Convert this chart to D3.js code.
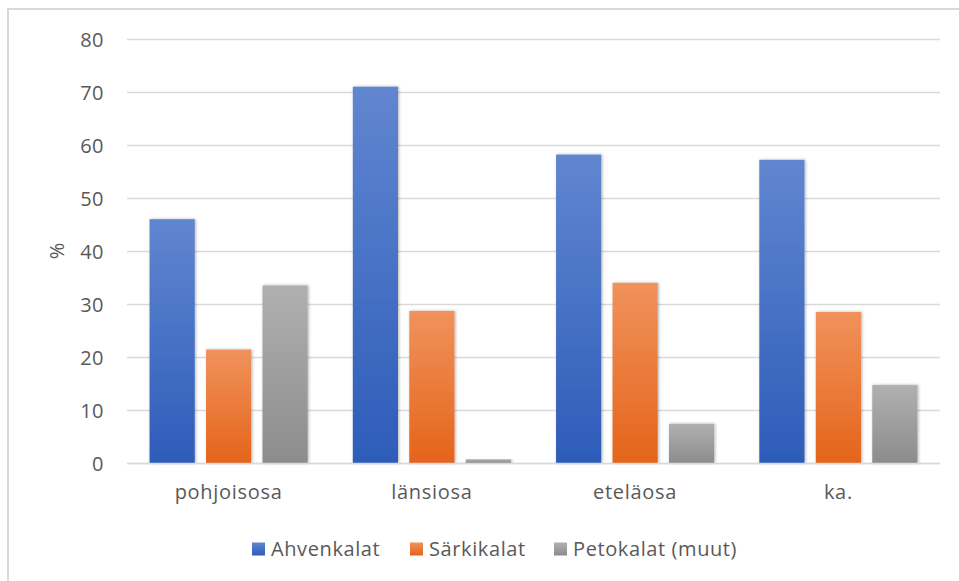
<!DOCTYPE html>
<html><head><meta charset="utf-8">
<script src="https://cdn.jsdelivr.net/npm/d3@7"></script>
<style>body{margin:0;background:#fff}svg{display:block}</style>
</head><body>
<svg id="chart" width="959" height="581"></svg>
<script>
const categories = ["pohjoisosa", "länsiosa", "eteläosa", "ka."];
const seriesNames = ["Ahvenkalat", "Särkikalat", "Petokalat (muut)"];
const ahvenkalat = [46.0, 71.0, 58.2, 57.2];
const sarkikalat = [21.4, 28.7, 34.0, 28.5];
const petokalat = [33.5, 0.7, 7.4, 14.7];
const yTicks = [0, 10, 20, 30, 40, 50, 60, 70, 80];
const yLabel = "%";

(function () {
const seriesValues = [ahvenkalat, sarkikalat, petokalat];
const colorsTop = ["#6186d0", "#f0925c", "#b0b0b0"];
const colorsBot = ["#2d5cb9", "#e5641a", "#8c8c8c"];

const svg = d3.select("#chart");
const font = "'Open Sans', 'Segoe UI', sans-serif";
const textColor = "#595959";
const gridColor = "#d9d9d9";

// outer frame (cropped)
svg.append("rect").attr("x", 8).attr("y", 9).attr("width", 1200).attr("height", 1200)
  .attr("fill", "none").attr("stroke", "#d9d9d9").attr("stroke-width", 2);

const defs = svg.append("defs");
seriesNames.forEach((s, i) => {
  const g = defs.append("linearGradient").attr("id", "g" + i)
    .attr("x1", 0).attr("y1", 0).attr("x2", 0).attr("y2", 1);
  g.append("stop").attr("offset", "0%").attr("stop-color", colorsTop[i]);
  g.append("stop").attr("offset", "100%").attr("stop-color", colorsBot[i]);
});
const f = defs.append("filter").attr("id", "shadow").attr("x", "-20%").attr("y", "-5%").attr("width", "140%").attr("height", "110%");
f.append("feDropShadow").attr("dx", 1).attr("dy", 0).attr("stdDeviation", 1.6)
  .attr("flood-color", "#000").attr("flood-opacity", 0.3);

const mLeft = 127, mRight = 940, mTop = 39, mBottom = 463;
const x = d3.scaleBand().domain(categories).range([mLeft, mRight]).paddingInner(0.222).paddingOuter(0.111);
const xs = d3.scaleBand().domain(d3.range(seriesNames.length)).range([0, x.bandwidth()]).paddingInner(0.2);
const y = d3.scaleLinear().domain([0, 80]).range([mBottom, mTop]);

// gridlines
const yAxis = d3.axisLeft(y).tickValues(yTicks).tickSize(-(mRight - mLeft)).tickPadding(23).tickFormat(d3.format("d"));
const ga = svg.append("g").attr("transform", `translate(${mLeft},0)`).call(yAxis);
ga.select(".domain").remove();
ga.selectAll(".tick line").attr("stroke", gridColor).attr("stroke-width", 1.5);
ga.selectAll(".tick text").attr("fill", textColor).attr("font-family", font).attr("font-size", 20)
  .attr("letter-spacing", 0.5).attr("dy", "0.35em");

// bars
categories.forEach((c, ci) => {
  seriesValues.forEach((vals, si) => {
    const v = vals[ci];
    svg.append("rect")
      .attr("x", x(c) + xs(si))
      .attr("y", y(v))
      .attr("width", xs.bandwidth())
      .attr("height", y(0) - y(v))
      .attr("fill", `url(#g${si})`)
      .attr("filter", "url(#shadow)");
  });
});

// x axis
const xAxis = d3.axisBottom(x).tickSize(0).tickPadding(22);
const gx = svg.append("g").attr("transform", `translate(0,${mBottom})`).call(xAxis);
gx.select(".domain").attr("stroke", gridColor).attr("stroke-width", 1.5);
gx.selectAll(".tick text").attr("fill", textColor).attr("font-family", font).attr("font-size", 20)
  .attr("letter-spacing", 0.7);

// y label
svg.append("text").attr("transform", "translate(64,251) rotate(-90)")
  .attr("text-anchor", "middle").attr("fill", textColor).attr("font-family", font).attr("font-size", 20)
  .text(yLabel);

// legend
const legendX = [252, 410, 554];
const legendY = 549;
const lg = svg.append("g");
seriesNames.forEach((s, i) => {
  lg.append("rect").attr("x", legendX[i]).attr("y", legendY - 6.5).attr("width", 13).attr("height", 13)
    .attr("fill", `url(#g${i})`);
  lg.append("text").attr("x", legendX[i] + 19).attr("y", legendY).attr("dy", "0.35em")
    .attr("fill", textColor).attr("font-family", font).attr("font-size", 20)
    .attr("letter-spacing", 0.6).text(s);
});
})();
</script>
</body></html>
